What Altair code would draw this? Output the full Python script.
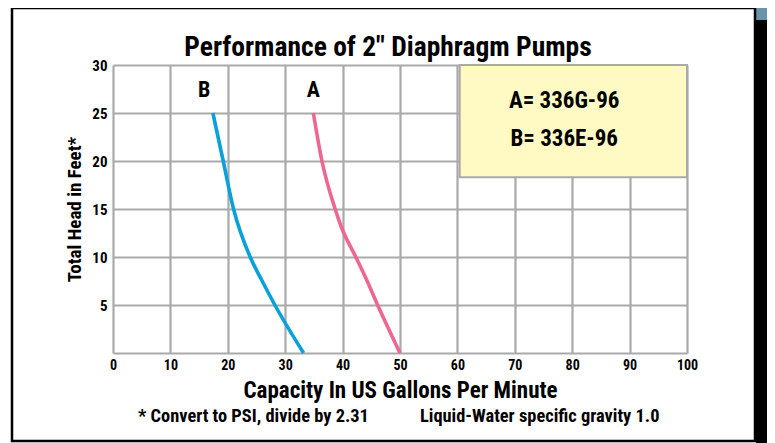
import altair as alt
import pandas as pd

# ---- data ----
b_gpm = [17.4, 19.2, 21.0, 23.9, 25.9, 28.2, 33.2]
b_head = [25, 20, 15, 10, 7.6, 5, 0]
a_gpm = [34.9, 36.4, 38.7, 39.8, 42.3, 44.2, 46.1, 50.0]
a_head = [25, 20, 15, 13.1, 10, 7.6, 5, 0]
x_ticks = list(range(0, 101, 10))
y_ticks = list(range(0, 31, 5))
series_names = ["A", "B"]
series_colors = ["#ee6790", "#0aa0da"]
legend_lines = ["A= 336G-96", "B= 336E-96"]
footnotes = ["* Convert to PSI, divide by 2.31", "Liquid-Water specific gravity 1.0"]
title_text = 'Performance of 2" Diaphragm Pumps'

FONT = "Roboto Condensed"
W, H = 574, 288
PAD = {"left": 105, "top": 57, "right": 80, "bottom": 90}

curves = pd.DataFrame(
    {"gpm": a_gpm + b_gpm,
     "head": a_head + b_head,
     "pump": ["A"] * len(a_gpm) + ["B"] * len(b_gpm)}
)

xs = alt.Scale(domain=[0, 100], nice=False)
ys = alt.Scale(domain=[0, 30], nice=False)

one = pd.DataFrame({"k": [0]})

# decorative page frame (pixel positions relative to plot area)
steel = alt.Chart(one).mark_rect(color="#6a94a7").encode(
    x=alt.value(643), x2=alt.value(654), y=alt.value(-57), y2=alt.value(380))
shadow = alt.Chart(one).mark_rect(color="black").encode(
    x=alt.value(643), x2=alt.value(654), y=alt.value(-45), y2=alt.value(380))
frame = alt.Chart(one).mark_rect(fill=None, stroke="black", strokeWidth=2.5).encode(
    x=alt.value(-101), x2=alt.value(642), y=alt.value(-57), y2=alt.value(376))

box = alt.Chart(pd.DataFrame({"x": [60.4], "x2": [100], "y": [18.3], "y2": [30]})).mark_rect(
    fill="#fffac3", stroke="#a9a9a9", strokeWidth=2).encode(
    x=alt.X("x:Q", scale=xs), x2="x2:Q", y=alt.Y("y:Q", scale=ys), y2="y2:Q")

box_text = alt.Chart(pd.DataFrame({"t": legend_lines, "x": [78.6, 78.6], "y": [26.3, 22.3]})).mark_text(
    font=FONT, fontSize=23, fontWeight="bold", color="black", baseline="middle").encode(
    x=alt.X("x:Q", scale=xs), y=alt.Y("y:Q", scale=ys), text="t:N")

lines = alt.Chart(curves).mark_line(strokeWidth=3.6, interpolate="monotone").encode(
    x=alt.X("gpm:Q", scale=xs,
            axis=alt.Axis(values=x_ticks, title="Capacity In US Gallons Per Minute",
                          titleFontSize=23, titleBaseline="alphabetic", titleY=44,
                          labelPadding=5, labelFontSize=14, labelFlush=False)),
    y=alt.Y("head:Q", scale=ys,
            axis=alt.Axis(values=y_ticks, title="Total Head in Feet*",
                          labelExpr="datum.value == 0 ? '' : datum.label",
                          titleFontSize=19, titleAngle=-90, titleBaseline="alphabetic",
                          titleX=-33, titleY=144, titleAlign="center",
                          labelPadding=6, labelFontSize=15, labelFlush=False)),
    color=alt.Color("pump:N", scale=alt.Scale(domain=series_names, range=series_colors), legend=None),
    detail="pump:N",
)

ab = alt.Chart(pd.DataFrame({"t": ["B", "A"], "x": [15.9, 34.9], "y": [27.4, 27.4]})).mark_text(
    font=FONT, fontSize=22, fontWeight="bold", color="black", baseline="middle").encode(
    x=alt.X("x:Q", scale=xs), y=alt.Y("y:Q", scale=ys), text="t:N")

notes = alt.Chart(pd.DataFrame({"t": footnotes, "px": [25, 307]})).mark_text(
    font=FONT, fontSize=18.4, fontWeight="bold", color="black", align="left", baseline="alphabetic").encode(
    x=alt.X("px:Q", scale=None), y=alt.value(356.7), text="t:N")

title = alt.Chart(pd.DataFrame({"t": [title_text]})).mark_text(
    font=FONT, fontSize=27.5, fontWeight="bold", color="black", align="center", baseline="alphabetic").encode(
    x=alt.value(275), y=alt.value(-9), text="t:N")

chart = alt.layer(steel, shadow, frame, box, lines, box_text, ab, notes, title).properties(
    width=W, height=H,
    padding=PAD,
    autosize=alt.AutoSizeParams(type="none"),
    background="white",
).configure_view(stroke=None).configure_axis(
    grid=True, gridColor="#a9a9a9", gridWidth=2.2, domain=False, ticks=False,
    labelFont=FONT, labelFontWeight="bold", labelColor="black",
    titleFont=FONT, titleFontWeight="bold", titleColor="black",
)

chart.save("out.html", embed_options={"renderer": "svg", "actions": False})
